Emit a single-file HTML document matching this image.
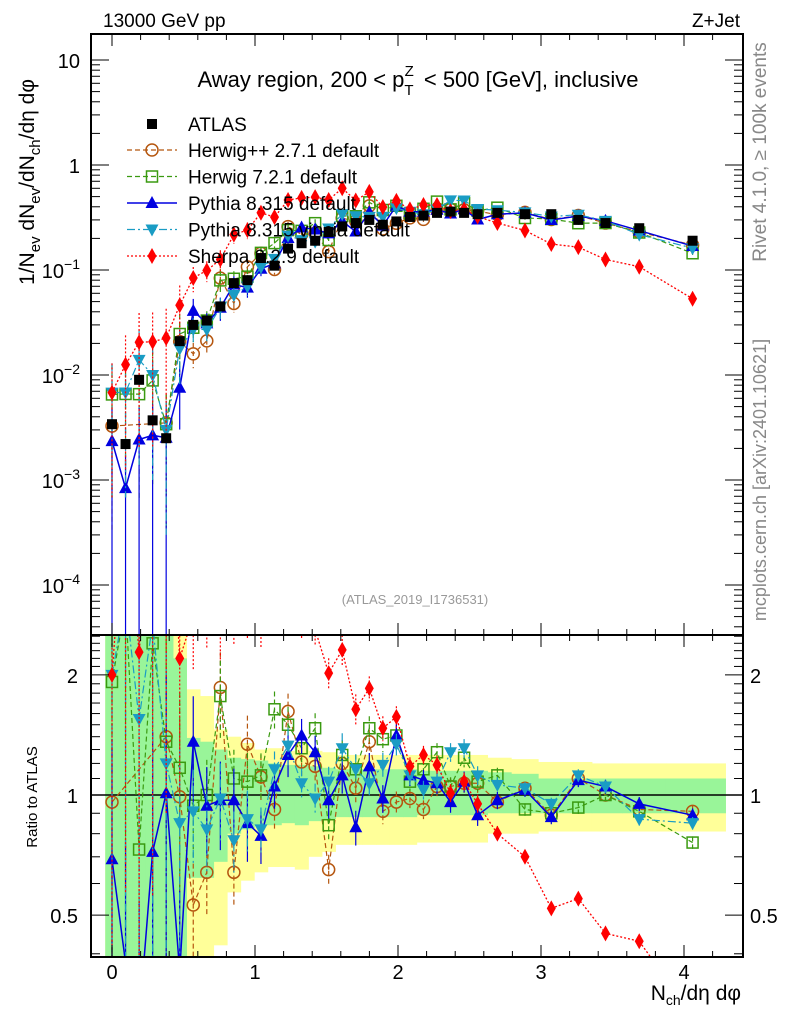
<!DOCTYPE html>
<html><head><meta charset="utf-8"><style>
html,body{margin:0;padding:0;background:#fff;overflow:hidden;}
svg{display:block;font-family:"Liberation Sans",sans-serif;}
</style></head><body>
<svg id="c" width="786" height="1024" viewBox="0 0 786 1024" xmlns="http://www.w3.org/2000/svg">
<defs>
<clipPath id="mainClip"><rect x="91" y="34" width="652" height="601"/></clipPath>
<clipPath id="ratioClip"><rect x="91" y="635" width="652" height="322"/></clipPath>
</defs>
<g id="bands" clip-path="url(#ratioClip)"></g>
<g id="ratioMarks" clip-path="url(#ratioClip)"></g>
<g id="mainMarks" clip-path="url(#mainClip)"></g>
<g id="axes"></g>
<text x="103" y="27" font-size="19">13000 GeV pp</text>
<text x="740" y="27" font-size="19" text-anchor="end">Z+Jet</text>
<text x="418" y="87" font-size="22" text-anchor="middle">Away region, 200 &lt; p<tspan font-size="15" dy="8">T</tspan><tspan font-size="15" dx="-9" dy="-19">Z</tspan><tspan dy="11" dx="4"> &lt; 500 [GeV], inclusive</tspan></text>
<text x="415" y="604" font-size="13" fill="#999" text-anchor="middle">(ATLAS_2019_I1736531)</text>
<text transform="translate(766,152) rotate(-90)" font-size="19" fill="#888" text-anchor="middle">Rivet 4.1.0, ≥ 100k events</text>
<text transform="translate(766,480) rotate(-90)" font-size="18" fill="#888" text-anchor="middle">mcplots.cern.ch [arXiv:2401.10621]</text>
<text transform="translate(34,182) rotate(-90)" font-size="21" text-anchor="middle">1/N<tspan font-size="15" dy="6">ev</tspan><tspan dy="-6"> dN</tspan><tspan font-size="15" dy="6">ev</tspan><tspan dy="-6">/dN</tspan><tspan font-size="15" dy="6">ch</tspan><tspan dy="-6">/dη dφ</tspan></text>
<text transform="translate(37,797) rotate(-90)" font-size="15" text-anchor="middle">Ratio to ATLAS</text>
<text x="741" y="1000" font-size="21" text-anchor="end">N<tspan font-size="14" dy="5">ch</tspan><tspan dy="-5">/dη dφ</tspan></text>
<g id="legend"></g>
</svg>
<script>
const xs = [0,0.0947,0.1894,0.2841,0.3788,0.4735,0.5682,0.6629,0.7576,0.8523,0.947,1.0417,1.1364,1.2311,1.3258,1.4205,1.5152,1.6099,1.7046,1.7993,1.894,1.9887,2.0834,2.1781,2.2728,2.3675,2.4622,2.5569,2.695,2.888,3.072,3.261,3.451,3.687,4.06];
const atlas = [3.4e-3,2.2e-3,9e-3,3.7e-3,2.5e-3,0.021,0.030,0.033,0.045,0.075,0.08,0.13,0.11,0.16,0.18,0.19,0.23,0.26,0.28,0.30,0.27,0.29,0.32,0.33,0.35,0.36,0.35,0.34,0.35,0.34,0.34,0.30,0.28,0.25,0.19];
const rHerwigpp = [0.96,null,null,null,1.40,0.99,0.53,0.64,1.86,0.64,1.34,1.11,0.92,1.62,1.21,1.18,0.65,1.20,1.04,1.36,0.91,0.96,0.98,0.92,1.05,1.05,1.07,1.07,0.96,1.04,0.89,1.10,1.0,0.92,0.91];
const rHerwig7 = [1.92,3.0,0.73,2.4,1.36,1.17,0.94,1.0,1.77,1.10,1.08,1.12,1.64,1.50,1.31,1.47,0.84,1.26,1.16,1.47,1.38,1.41,1.08,1.16,1.28,1.05,1.24,1.08,1.12,0.92,0.90,0.93,1.0,0.91,0.76];
const rPythia = [0.69,0.38,0.27,0.72,1.01,0.36,1.36,0.94,0.97,0.97,0.85,0.79,1.05,1.26,1.41,1.28,0.97,1.12,0.83,1.18,0.98,1.41,1.12,1.09,1.07,0.96,1.08,0.89,0.97,1.03,0.88,1.09,1.05,0.95,0.89];
const rVincia = [2.0,3.1,1.55,2.7,1.20,0.85,0.91,0.82,0.98,0.77,0.87,0.82,1.16,1.33,1.07,0.98,1.08,1.31,1.16,1.07,1.19,1.34,1.12,1.03,1.08,1.28,1.31,1.12,1.06,1.04,0.95,1.12,1.05,0.87,0.85];
const rSherpa = [2.0,5.7,2.28,5.6,9.0,2.2,2.8,3.0,2.8,2.9,3.0,2.7,2.9,2.9,2.7,2.6,2.02,2.31,1.64,1.85,1.47,1.57,1.18,1.26,1.19,1.01,1.08,0.95,0.80,0.70,0.52,0.55,0.45,0.43,0.28];
const pythiaRelErr = [1,1,1,1,1,0.6,0.3,0.25,0.25,0.2,0.2,0.15,0.12,0.12,0.1,0.1,0.1,0.1,0.1,0.08,0.08,0.07,0.06,0.06,0.06,0.06,0.06,0.06,0.05,0.04,0.04,0.04,0.04,0.04,0.04];
const yellowHi = [3,3,3,3,3,3,1.84,1.77,1.46,1.40,1.35,1.30,1.31,1.29,1.35,1.29,1.28,1.26,1.26,1.26,1.26,1.26,1.26,1.26,1.26,1.26,1.26,1.26,1.24,1.23,1.21,1.21,1.2,1.2,1.2];
const yellowLo = [0.3,0.3,0.3,0.3,0.3,0.3,0.3,0.3,0.42,0.57,0.61,0.64,0.66,0.66,0.65,0.70,0.72,0.75,0.75,0.75,0.75,0.75,0.75,0.76,0.76,0.76,0.76,0.76,0.80,0.80,0.81,0.81,0.81,0.81,0.81];
const greenHi = [3,3,3,3,3,2.2,1.39,1.36,1.30,1.24,1.23,1.22,1.2,1.19,1.19,1.18,1.17,1.16,1.16,1.16,1.16,1.16,1.16,1.15,1.15,1.15,1.15,1.15,1.14,1.13,1.10,1.10,1.10,1.10,1.10];
const greenLo = [0.3,0.3,0.3,0.3,0.3,0.3,0.62,0.62,0.68,0.80,0.82,0.84,0.84,0.85,0.84,0.86,0.87,0.88,0.88,0.88,0.88,0.88,0.88,0.89,0.89,0.89,0.89,0.89,0.90,0.90,0.90,0.90,0.90,0.90,0.90];
const xTickLabels = ["0","1","2","3","4"];
const ratioTickVals = [0.5,1,2];

const NS="http://www.w3.org/2000/svg";
const X0=91,X1=743,MT=34,MB=635,RB=957;
function xPos(v){return 112+143*v;}
function yMain(v){return 165-105*Math.log10(v);}
function yRat(r){return 795-399*Math.log10(r);}
function mk(tag,attrs,parent){const e=document.createElementNS(NS,tag);for(const k in attrs)e.setAttribute(k,attrs[k]);parent.appendChild(e);return e;}
const axes=document.getElementById('axes'),bands=document.getElementById('bands'),rm=document.getElementById('ratioMarks'),mm=document.getElementById('mainMarks'),leg=document.getElementById('legend');

const edges=[];
for(let i=0;i<xs.length;i++){
  const l = i===0 ? xs[0]-(xs[1]-xs[0])/2 : (xs[i-1]+xs[i])/2;
  const r = i===xs.length-1 ? xs[i]+0.23 : (xs[i]+xs[i+1])/2;
  edges.push([l,r]);
}
for(let i=0;i<xs.length;i++){
  const y=mk('rect',{x:xPos(edges[i][0]),y:yRat(yellowHi[i]),width:xPos(edges[i][1])-xPos(edges[i][0])+0.5,height:yRat(yellowLo[i])-yRat(yellowHi[i]),fill:'#ffff99'},bands);
  
  
}
for(let i=0;i<xs.length;i++){
  const g=mk('rect',{x:xPos(edges[i][0]),y:yRat(greenHi[i]),width:xPos(edges[i][1])-xPos(edges[i][0])+0.5,height:yRat(greenLo[i])-yRat(greenHi[i]),fill:'#99f599'},bands);
  
  
}
const one=mk('line',{x1:X0,x2:X1,y1:yRat(1),y2:yRat(1),stroke:'#000','stroke-width':1.5},bands);



function marker(parent,type,cx,cy,color){
  let e;
  if(type==='sq') e=mk('rect',{x:cx-5,y:cy-5,width:10,height:10,fill:'#000'},parent);
  else if(type==='osq') e=mk('rect',{x:cx-5.5,y:cy-5.5,width:11,height:11,fill:'none',stroke:color,'stroke-width':1.5},parent);
  else if(type==='oc') e=mk('circle',{cx:cx,cy:cy,r:6,fill:'none',stroke:color,'stroke-width':1.5},parent);
  else if(type==='tu') e=mk('polygon',{points:`${cx},${cy-7} ${cx-6.5},${cy+5} ${cx+6.5},${cy+5}`,fill:color},parent);
  else if(type==='td') e=mk('polygon',{points:`${cx},${cy+7} ${cx-6.5},${cy-5} ${cx+6.5},${cy-5}`,fill:color},parent);
  else e=mk('polygon',{points:`${cx},${cy-8} ${cx-4.5},${cy} ${cx},${cy+8} ${cx+4.5},${cy}`,fill:color},parent);
  return e;
}
const series=[
 {name:'herwigpp',r:rHerwigpp,color:'#b5560f',type:'oc',dash:'5,3',w:1.2,label:'Herwig++ 2.7.1 default'},
 {name:'herwig7',r:rHerwig7,color:'#3a9a10',type:'osq',dash:'5,3',w:1.2,label:'Herwig 7.2.1 default'},
 {name:'pythia',r:rPythia,color:'#0000e0',type:'tu',dash:'',w:1.5,label:'Pythia 8.315 default'},
 {name:'vincia',r:rVincia,color:'#1a9cc4',type:'td',dash:'8,3,2,3',w:1.2,label:'Pythia 8.315 vincia default'},
 {name:'sherpa',r:rSherpa,color:'#ff0000',type:'dm',dash:'2,2',w:1.3,label:'Sherpa 2.2.9 default'}
];
series.forEach(s=>{
  const pm=[],pr=[];
  for(let i=0;i<xs.length;i++){ if(s.r[i]==null) continue; pm.push([xPos(xs[i]),yMain(s.r[i]*atlas[i])]); pr.push([xPos(xs[i]),yRat(s.r[i])]); }
  [[mm,pm],[rm,pr]].forEach(([par,pts])=>{
    const pl=mk('polyline',{points:pts.map(p=>p.join(',')).join(' '),fill:'none',stroke:s.color,'stroke-width':s.w,'stroke-dasharray':s.dash},par);
    
    
  });
  for(let i=0;i<xs.length;i++){
    if(s.r[i]==null) continue;
    const cx=xPos(xs[i]);
    const err = s.name==='pythia'?pythiaRelErr[i]:Math.min(pythiaRelErr[i]*0.9,0.9);
    const vm=s.r[i]*atlas[i];
    const eb=mk('line',{x1:cx,x2:cx,y1:yMain(vm*(1+err)),y2:err>=1?MB:yMain(vm*(1-err)),stroke:s.color,'stroke-width':1.2,'stroke-dasharray':s.dash},mm);
    
    
    const eb2=mk('line',{x1:cx,x2:cx,y1:yRat(s.r[i]*(1+err)),y2:err>=1?RB:yRat(s.r[i]*(1-err)),stroke:s.color,'stroke-width':1.2,'stroke-dasharray':s.dash},rm);
    
    
    const m1=marker(mm,s.type,cx,yMain(vm),s.color);
    
    
    const m2=marker(rm,s.type,cx,yRat(s.r[i]),s.color);
    
    
  }
});
for(let i=0;i<xs.length;i++){
  const m=marker(mm,'sq',xPos(xs[i]),yMain(atlas[i]),'#000');
  
  
}

const f1=mk('rect',{x:X0,y:MT,width:X1-X0,height:MB-MT,fill:'none',stroke:'#000','stroke-width':2},axes);


const f2=mk('rect',{x:X0,y:MB,width:X1-X0,height:RB-MB,fill:'none',stroke:'#000','stroke-width':2},axes);


for(let k=0;k<=21;k++){
  const v=k*0.2; const x=xPos(v); if(x>X1) break;
  const major=(k%5===0), L=major?12:6;
  [[MT,1],[MB,-1],[MB,1],[RB,-1]].forEach(([y0,d])=>mk('line',{x1:x,x2:x,y1:y0,y2:y0+d*L,stroke:'#000','stroke-width':1},axes));
  if(major){
    const t=mk('text',{x:x,y:979,'font-size':20,'text-anchor':'middle'},axes);
    t.textContent=xTickLabels[k/5];
    
    
  }
}
for(let e=-5;e<=1;e++){
  for(let m=1;m<=9;m++){
    const v=m*Math.pow(10,e); const y=yMain(v); if(y<MT||y>MB) continue;
    const L=m===1?18:9;
    mk('line',{x1:X0,x2:X0+L,y1:y,y2:y,stroke:'#000'},axes);
    mk('line',{x1:X1,x2:X1-L,y1:y,y2:y,stroke:'#000'},axes);
    if(m===1){
      const t=mk('text',{x:80,y:y+8,'font-size':20,'text-anchor':'end'},axes);
      
      
      if(e===0) t.textContent='1'; else if(e===1) t.textContent='10';
      else { t.textContent='10'; const s=mk('tspan',{'font-size':14,dy:-9},t); s.textContent='−'+(-e); }
    }
  }
}
for(let k=4;k<=25;k++){
  const v=k/10; const y=yRat(v); if(y<MB||y>RB) continue;
  const major=ratioTickVals.includes(v), L=major?18:9;
  mk('line',{x1:X0,x2:X0+L,y1:y,y2:y,stroke:'#000'},axes);
  mk('line',{x1:X1,x2:X1-L,y1:y,y2:y,stroke:'#000'},axes);
}
ratioTickVals.forEach(v=>{
  const t=mk('text',{x:78,y:yRat(v)+8,'font-size':20,'text-anchor':'end'},axes);
  t.textContent=String(v);
  
  
  const t2=mk('text',{x:750,y:yRat(v)+8,'font-size':20},axes);
  t2.textContent=String(v);
  
  
});
const lx=152;
{
  const ly=124; marker(leg,'sq',lx,ly,'#000');
  const t=mk('text',{x:188,y:ly+7,'font-size':19},leg); t.textContent='ATLAS';
  
  
}
series.forEach((s,i)=>{
  const ly=150+i*26.5;
  mk('line',{x1:127,x2:177,y1:ly,y2:ly,stroke:s.color,'stroke-width':s.w,'stroke-dasharray':s.dash},leg);
  marker(leg,s.type,lx,ly,s.color);
  const t=mk('text',{x:188,y:ly+7,'font-size':19},leg); t.textContent=s.label;
  
  
});
</script>
</body></html>
